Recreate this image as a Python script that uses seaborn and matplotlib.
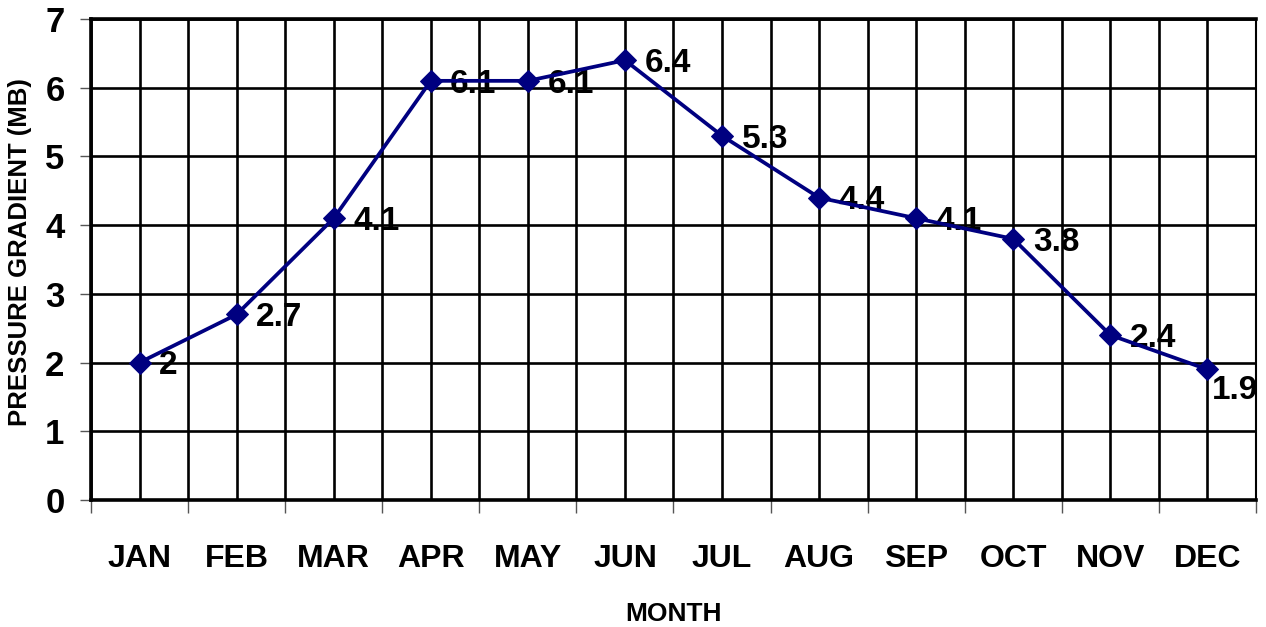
import numpy as np
import pandas as pd
import seaborn as sns
import matplotlib.pyplot as plt
from matplotlib.ticker import FixedLocator

# monthly pressure gradient values
months = ["JAN", "FEB", "MAR", "APR", "MAY", "JUN",
          "JUL", "AUG", "SEP", "OCT", "NOV", "DEC"]
gradient = [2, 2.7, 4.1, 6.1, 6.1, 6.4, 5.3, 4.4, 4.1, 3.8, 2.4, 1.9]
y_ticks = [0, 1, 2, 3, 4, 5, 6, 7]

sns.set_theme(style="white")
plt.rcParams["font.family"] = ["Liberation Sans", "DejaVu Sans"]
plt.rcParams["font.weight"] = "bold"
plt.rcParams["text.color"] = "black"
plt.rcParams["axes.labelcolor"] = "black"
plt.rcParams["xtick.labelcolor"] = "black"
plt.rcParams["ytick.labelcolor"] = "black"

df = pd.DataFrame({"month": months, "gradient": gradient})

W, H = 1266, 627
fig = plt.figure(figsize=(W / 100, H / 100), dpi=100)
ax = fig.add_axes([91 / W, 1 - 500 / H, (1256 - 91) / W, (500 - 19) / H])

sns.lineplot(
    data=df, x="month", y="gradient", ax=ax,
    color="#000080", lw=2.7, marker="D", markersize=11,
    markeredgecolor="#000080", sort=False, zorder=4
)

ax.set_xlim(-0.5, len(months) - 0.5)
ax.set_ylim(0, 7)
ax.set_yticks(y_ticks)
ax.xaxis.set_minor_locator(FixedLocator(np.arange(-0.5, len(months), 1)))

# grid: vertical lines at centres and boundaries, horizontal at integers
ax.set_axisbelow(True)
ax.grid(True, which="both", axis="x", color="black", lw=1.9)
ax.grid(True, which="major", axis="y", color="black", lw=1.9)

for side in ["left", "bottom", "top"]:
    ax.spines[side].set_visible(True)
    ax.spines[side].set_color("black")
    ax.spines[side].set_linewidth(2.6)
ax.spines["right"].set_visible(True)
ax.spines["right"].set_color("black")
ax.spines["right"].set_linewidth(1.5)

ax.tick_params(axis="x", which="major", length=0, pad=32, labelsize=23,
               labelcolor="black")
ax.tick_params(axis="x", which="minor", length=9, width=1, color="#555555",
               direction="out", bottom=True)
ax.tick_params(axis="y", which="major", length=8, width=1, color="#555555",
               direction="out", left=True, pad=11, labelsize=25,
               labelcolor="black")

# data labels, sitting under the line
for i, v in enumerate(gradient):
    dx, dy = (14, -8.5)
    if i == len(gradient) - 1:
        dx, dy = (3, -21.5)
    ax.annotate(f"{v:g}", (i, v), xytext=(dx, dy), textcoords="offset points",
                ha="left", va="baseline", fontsize=24, fontweight="bold",
                color="black", zorder=3)

ax.set_xlabel("MONTH", fontsize=19, fontweight="bold", color="black")
ax.set_ylabel("PRESSURE GRADIENT (MB)", fontsize=18.5, fontweight="bold",
              color="black")
ax.xaxis.label.set_va("center")
ax.yaxis.label.set_va("center")
ax.xaxis.set_label_coords(0.5, (500 - 614) / 481)
ax.yaxis.set_label_coords((20 - 91) / 1165, (500 - 252) / 481)

fig.savefig("out.png", dpi=100, facecolor="white")
